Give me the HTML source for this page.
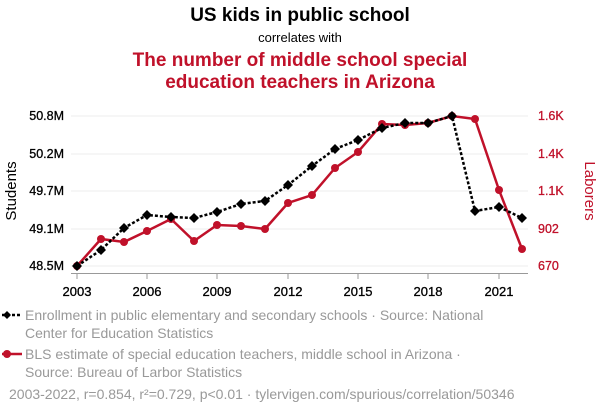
<!DOCTYPE html>
<html><head><meta charset="utf-8"><style>
body{margin:0;background:#fff;width:600px;height:414px;overflow:hidden;font-family:"Liberation Sans",sans-serif}
</style></head><body>
<svg width="600" height="414" xmlns="http://www.w3.org/2000/svg" font-family="Liberation Sans, sans-serif">
<text x="300" y="21" text-anchor="middle" font-size="19" font-weight="bold" fill="#000">US kids in public school</text>
<text x="300" y="42" text-anchor="middle" font-size="13" fill="#000">correlates with</text>
<text x="300" y="66" text-anchor="middle" font-size="19" font-weight="bold" fill="#c0112a">The number of middle school special</text>
<text x="300" y="88" text-anchor="middle" font-size="19" font-weight="bold" fill="#c0112a">education teachers in Arizona</text>
<g stroke="#eee" stroke-width="1">
<line x1="71" y1="116" x2="528" y2="116"/><line x1="71" y1="154" x2="528" y2="154"/><line x1="71" y1="191" x2="528" y2="191"/><line x1="71" y1="229" x2="528" y2="229"/><line x1="71" y1="266" x2="528" y2="266"/>
</g>
<line x1="71" y1="273.5" x2="528" y2="273.5" stroke="#999"/>
<g stroke="#999"><line x1="77" y1="273" x2="77" y2="279"/><line x1="147" y1="273" x2="147" y2="279"/><line x1="217" y1="273" x2="217" y2="279"/><line x1="288" y1="273" x2="288" y2="279"/><line x1="358" y1="273" x2="358" y2="279"/><line x1="428" y1="273" x2="428" y2="279"/><line x1="499" y1="273" x2="499" y2="279"/></g>
<g font-size="13" fill="#000" text-anchor="middle" stroke="#000" stroke-width="0.3"><text x="77" y="296">2003</text><text x="147" y="296">2006</text><text x="217" y="296">2009</text><text x="288" y="296">2012</text><text x="358" y="296">2015</text><text x="428" y="296">2018</text><text x="499" y="296">2021</text></g>
<g font-size="12.5" fill="#000" text-anchor="end" stroke="#000" stroke-width="0.3"><text x="64" y="120">50.8M</text><text x="64" y="158">50.2M</text><text x="64" y="195">49.7M</text><text x="64" y="233">49.1M</text><text x="64" y="270">48.5M</text></g>
<g font-size="12.5" fill="#c0112a" stroke="#c0112a" stroke-width="0.3"><text x="538" y="120">1.6K</text><text x="538" y="158">1.4K</text><text x="538" y="195">1.1K</text><text x="538" y="233">902</text><text x="538" y="270">670</text></g>
<text transform="translate(16,191) rotate(-90)" text-anchor="middle" font-size="15" fill="#000">Students</text>
<text transform="translate(585,191) rotate(90)" text-anchor="middle" font-size="15" fill="#c0112a">Laborers</text>
<polyline fill="none" stroke="#c0112a" stroke-width="2.5" points="77,266 101,239 124,242 147,231 171,219 194,241 217,225 241,226 265,229 288,203 312,195 335,168 358,152 382,124 405,125 428,123 452,116 475,119 499,190 522,249"/>
<g fill="#c0112a"><circle cx="77" cy="266" r="4"/><circle cx="101" cy="239" r="4"/><circle cx="124" cy="242" r="4"/><circle cx="147" cy="231" r="4"/><circle cx="171" cy="219" r="4"/><circle cx="194" cy="241" r="4"/><circle cx="217" cy="225" r="4"/><circle cx="241" cy="226" r="4"/><circle cx="265" cy="229" r="4"/><circle cx="288" cy="203" r="4"/><circle cx="312" cy="195" r="4"/><circle cx="335" cy="168" r="4"/><circle cx="358" cy="152" r="4"/><circle cx="382" cy="124" r="4"/><circle cx="405" cy="125" r="4"/><circle cx="428" cy="123" r="4"/><circle cx="452" cy="116" r="4"/><circle cx="475" cy="119" r="4"/><circle cx="499" cy="190" r="4"/><circle cx="522" cy="249" r="4"/></g>
<polyline fill="none" stroke="#000" stroke-width="2.5" stroke-dasharray="3,2" points="77,266 101,250 124,228 147,215 171,217 194,218 217,212 241,204 265,201 288,185 312,166 335,149 358,140 382,128 405,123 428,123 452,116 475,211 499,207 522,218"/>
<g fill="#000">
<path d="M77,261l5,5l-5,5l-5,-5z"/><path d="M101,245l5,5l-5,5l-5,-5z"/><path d="M124,223l5,5l-5,5l-5,-5z"/><path d="M147,210l5,5l-5,5l-5,-5z"/><path d="M171,212l5,5l-5,5l-5,-5z"/><path d="M194,213l5,5l-5,5l-5,-5z"/><path d="M217,207l5,5l-5,5l-5,-5z"/><path d="M241,199l5,5l-5,5l-5,-5z"/><path d="M265,196l5,5l-5,5l-5,-5z"/><path d="M288,180l5,5l-5,5l-5,-5z"/><path d="M312,161l5,5l-5,5l-5,-5z"/><path d="M335,144l5,5l-5,5l-5,-5z"/><path d="M358,135l5,5l-5,5l-5,-5z"/><path d="M382,123l5,5l-5,5l-5,-5z"/><path d="M405,118l5,5l-5,5l-5,-5z"/><path d="M428,118l5,5l-5,5l-5,-5z"/><path d="M452,111l5,5l-5,5l-5,-5z"/><path d="M475,206l5,5l-5,5l-5,-5z"/><path d="M499,202l5,5l-5,5l-5,-5z"/><path d="M522,213l5,5l-5,5l-5,-5z"/>
</g>
<line x1="2" y1="315" x2="22" y2="315" stroke="#000" stroke-width="2.5" stroke-dasharray="3,2"/>
<path d="M7,311l4,4l-4,4l-4,-4z" fill="#000"/>
<text x="25" y="320" font-size="14" fill="#999">Enrollment in public elementary and secondary schools · Source: National</text>
<text x="25" y="338" font-size="14" fill="#999">Center for Education Statistics</text>
<line x1="2" y1="354" x2="22" y2="354" stroke="#c0112a" stroke-width="2.5"/>
<circle cx="7" cy="354" r="4" fill="#c0112a"/>
<text x="25" y="359" font-size="14" fill="#999">BLS estimate of special education teachers, middle school in Arizona ·</text>
<text x="25" y="377" font-size="14" fill="#999">Source: Bureau of Larbor Statistics</text>
<text x="9" y="399" font-size="14" fill="#999">2003-2022, r=0.854, r²=0.729, p&lt;0.01 · tylervigen.com/spurious/correlation/50346</text>
</svg>
</body></html>
